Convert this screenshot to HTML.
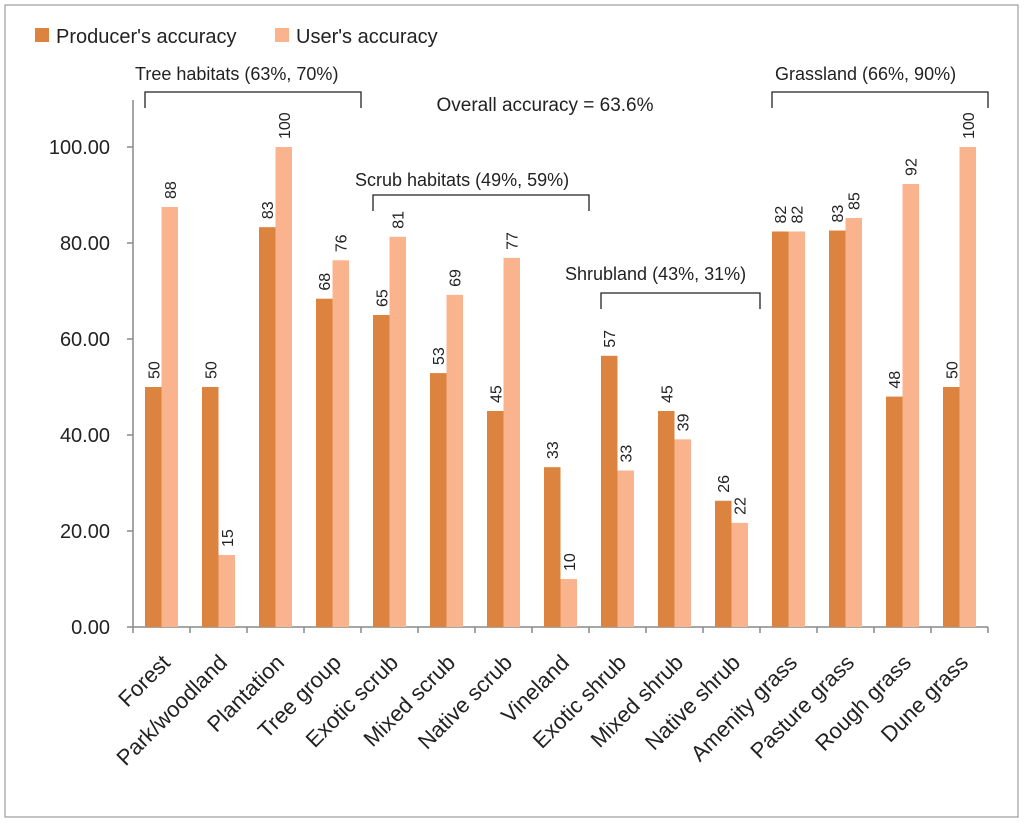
<!DOCTYPE html>
<html><head><meta charset="utf-8"><style>
body{margin:0;background:#fff;}
svg{display:block;font-family:"Liberation Sans",Calibri,sans-serif;}
</style></head><body>
<svg id="chart" width="1024" height="823" viewBox="0 0 1024 823">
<rect x="5" y="5" width="1013" height="812" fill="#fff" stroke="#888" stroke-width="1"/>
<g>
<rect x="35" y="28" width="14" height="14" fill="#DC843F"/>
<text x="56" y="43" font-size="20" fill="#222">Producer's accuracy</text>
<rect x="275" y="28" width="14" height="14" fill="#F9B48E"/>
<text x="296" y="43" font-size="20" fill="#222">User's accuracy</text>
</g>
<text x="545" y="111" font-size="19" text-anchor="middle" fill="#222">Overall  accuracy = 63.6%</text>
<g id="axes"></g>
<g id="bars"></g>
<g id="groups"></g>
</svg>
<script>
const categories=["Forest","Park/woodland","Plantation","Tree group","Exotic scrub","Mixed scrub","Native scrub","Vineland","Exotic shrub","Mixed shrub","Native shrub","Amenity grass","Pasture grass","Rough grass","Dune grass"];
const producer=[50,50,83.3,68.4,65,52.9,45,33.3,56.5,45,26.3,82.4,82.6,48,50];
const user=[87.5,15,100,76.4,81.3,69.2,76.9,10,32.6,39.1,21.7,82.4,85.2,92.3,100];
const yTicks=[0,20,40,60,80,100];
const groups=[{label:"Tree habitats (63%, 70%)",from:0,to:3,y:92,lx:135,ly:80},{label:"Scrub habitats (49%, 59%)",from:4,to:7,y:195,lx:355,ly:186},{label:"Shrubland (43%, 31%)",from:8,to:10,y:293,lx:565,ly:280},{label:"Grassland (66%, 90%)",from:11,to:14,y:92,lx:775,ly:80}];
const NS="http://www.w3.org/2000/svg";
const X0=133,W=57,Y0=627,PX=4.8,BW=16.5;
const y=v=>Y0-v*PX, xc=i=>X0+W*(i+0.5);
function mk(t,a,p){const e=document.createElementNS(NS,t);for(const k in a)e.setAttribute(k,a[k]);p.appendChild(e);return e;}
const axes=document.getElementById('axes'),bars=document.getElementById('bars'),gg=document.getElementById('groups');
let ax=mk('line',{x1:X0,y1:100,x2:X0,y2:Y0,stroke:'#888','stroke-width':1.5},axes);


let bx=mk('line',{x1:X0,y1:Y0,x2:X0+W*categories.length,y2:Y0,stroke:'#888','stroke-width':1.5},axes);


yTicks.forEach(v=>{
 let t=mk('line',{x1:X0-6,y1:y(v),x2:X0,y2:y(v),stroke:'#888','stroke-width':1.5},axes);
 
 
 let l=mk('text',{x:110,y:y(v)+7,'font-size':20,'text-anchor':'end',fill:'#222'},axes);
 l.textContent=v.toFixed(2);
 
 
});
for(let i=0;i<=categories.length;i++){
 let t=mk('line',{x1:X0+W*i,y1:Y0,x2:X0+W*i,y2:Y0+6,stroke:'#888','stroke-width':1.5},axes);
 
 
}
categories.forEach((c,i)=>{
 const cx=xc(i);
 [[producer[i],cx-BW,'#DC843F','producer'],[user[i],cx,'#F9B48E','user']].forEach(([v,bx0,col,nm])=>{
  let r=mk('rect',{x:bx0,y:y(v),width:BW,height:v*PX,fill:col},bars);
  
  
  let tx=bx0+BW/2+6,ty=y(v)-8;
  let l=mk('text',{x:tx,y:ty,'font-size':16,fill:'#222',transform:`rotate(-90 ${tx} ${ty})`},bars);
  l.textContent=Math.round(v);
  
  
 });
 let lx=cx+10,ly=664;
 let l=mk('text',{x:lx,y:ly,'font-size':22,'text-anchor':'end',fill:'#222',transform:`rotate(-45 ${lx} ${ly})`},axes);
 l.textContent=c;
 
 
});
groups.forEach(g=>{
 const a=xc(g.from)-BW,b=xc(g.to)+BW+12;
 let p=mk('path',{d:`M${a} ${g.y+16}V${g.y}H${b}V${g.y+16}`,fill:'none',stroke:'#222','stroke-width':1.3},gg);
 
 
 let t=mk('text',{x:g.lx,y:g.ly,'font-size':18,fill:'#222'},gg);
 t.textContent=g.label;
 
 
});
</script>
</body></html>
